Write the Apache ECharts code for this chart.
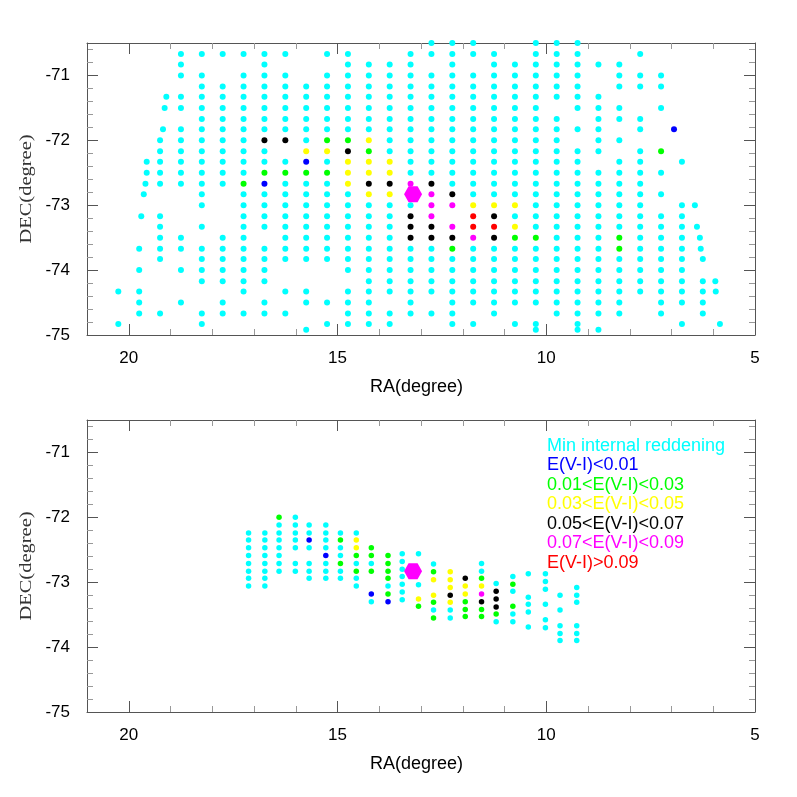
<!DOCTYPE html>
<html>
<head>
<meta charset="utf-8">
<script src="https://cdn.jsdelivr.net/npm/echarts@6/dist/echarts.min.js"></script>
<style>
  html, body { margin: 0; padding: 0; background: #fff; }
  #chart { width: 797px; height: 797px; }
</style>
</head>
<body>
<div id="chart"></div>
<script>
// top panel: one string per RA column, one char per DEC row (spaces only group rows by 5)
// . none  c min internal  b <0.01  g 0.01-0.03  y 0.03-0.05  k 0.05-0.07  m 0.07-0.09  r >0.09
const topRA = [20.25, 19.75, 19.25, 18.75, 18.25, 17.75, 17.25, 16.75, 16.25, 15.75,
  15.25, 14.75, 14.25, 13.75, 13.25, 12.75, 12.25, 11.75, 11.25, 10.75,
  10.25, 9.75, 9.25, 8.75, 8.25, 7.75, 7.25, 6.75, 6.25];
const topDec = [-70.5, -70.67, -70.83, -71, -71.17, -71.33, -71.5, -71.67, -71.83, -72,
  -72.17, -72.33, -72.5, -72.67, -72.83, -73, -73.17, -73.33, -73.5, -73.67,
  -73.83, -74, -74.17, -74.33, -74.5, -74.67, -74.83];
const topGrid = [
  "..... ..... ..... ..... ...c. .c",
  "..... ..... ..... ....c .c.cc c.",
  "..... ....c cccc. .cccc c.... c.",
  ".ccc. cc.cc cccc. ...cc .c..c ..",
  ".c.cc ccccc ccccc c.c.c ccc.. cc",
  ".c..c ccccc cccc. ...cc ccc.c c.",
  ".c.cc ccccc cccgc ccccc cccc. c.",
  ".cccc cccck ccgbc ccc.c ccc.c c.",
  ".c.cc cccck .cgcc ccccc c..c. c.",
  "....c ccccc ybgcc ccccc c..cc ..",
  ".c.cc ccccg ycgcc ccccc c...c .c",
  ".cccc ccccg kyyyc ccccc cc.cc cc",
  "..ccc ccccy gyyky ccccc ccccc cc",
  "..ccc ccccc cyyky ccccc cccc. cc",
  ".cccc ccccc cccm. ckkkc ccccc c.",
  "cc.cc ccccc ccckm mmkkc cccc. c.",
  "ccccc ccccc cccck m.mkg ccccc cc",
  "cc.cc ccccc ccccc yrrmc ccccc .c",
  ".cccc ccccc ccccc ykrkc ccccc c.",
  "..ccc ccccc ccccc ycygc ccccc .c",
  "ccccc ccccc ccccc cccgc ccccc .c",
  "ccccc c.ccc ccccc ccccc ccccc c.",
  "ccccc cc.c. ccccc ccccc ccccc cc",
  "..c.. ccccc c.ccc ccccc ccccc c.",
  "..ccc .cc.c .cccc cccgg ccccc c.",
  ".c.cc ..cc. ccccc ccccc cccc. ..",
  "...cc .c... g.c.c .cccc ccccc c.",
  "..... ..... .c... ccccc ccccc .c",
  "..... ..... ..... ..... c.ccc c."
];
// points off the regular grid (edges of the field)
const topExtra = [
  [19.57, -72.33, "c"], [19.57, -72.5, "c"], [19.6, -72.67, "c"], [19.64, -72.83, "c"], [19.7, -73.17, "c"],
  [19.1, -71.33, "c"], [19.14, -71.5, "c"], [19.18, -71.83, "c"],
  [6.94, -71.83, "b"],
  [6.44, -73, "c"], [6.39, -73.33, "c"], [6.32, -73.5, "c"], [6.3, -73.67, "c"],
  [5.95, -74.17, "c"], [5.94, -74.33, "c"], [5.84, -74.83, "c"],
  [15.75, -74.92, "c"], [10.25, -74.92, "c"], [9.25, -74.92, "c"], [8.75, -74.92, "c"]
];

// bottom panel points [RA, DEC]
const bottomMin = [
  [17.13, -72.24], [17.13, -72.35], [17.13, -72.47], [17.13, -72.59], [17.13, -72.71], [17.13, -72.83], [17.13, -72.94], [17.13, -73.06],
  [16.74, -72.24], [16.74, -72.35], [16.74, -72.47], [16.74, -72.59], [16.74, -72.71], [16.74, -72.83], [16.74, -72.94], [16.74, -73.06],
  [16.4, -72.12], [16.4, -72.24], [16.4, -72.35], [16.4, -72.47], [16.4, -72.59], [16.4, -72.71], [16.4, -72.83],
  [16.01, -72.0], [16.01, -72.12], [16.01, -72.24], [16.01, -72.35], [16.01, -72.47], [16.01, -72.71], [16.01, -72.83],
  [15.68, -72.12], [15.68, -72.24], [15.68, -72.47], [15.68, -72.71], [15.68, -72.83], [15.68, -72.94],
  [15.28, -72.12], [15.28, -72.24], [15.28, -72.35], [15.28, -72.47], [15.28, -72.71], [15.28, -72.83], [15.28, -72.94],
  [14.93, -72.24], [14.93, -72.47], [14.93, -72.59], [14.93, -72.83], [14.93, -72.94],
  [14.55, -72.24], [14.55, -72.71], [14.55, -72.94], [14.55, -73.06],
  [14.19, -72.71], [14.19, -73.3],
  [13.79, -73.06],
  [13.45, -72.56], [13.45, -72.68], [13.45, -72.8], [13.45, -72.91], [13.45, -73.03], [13.45, -73.15], [13.45, -73.27],
  [13.06, -72.56], [13.06, -73.04],
  [12.7, -72.72], [12.7, -73.43],
  [12.3, -73.43], [12.3, -73.55],
  [11.55, -72.71], [11.55, -72.83],
  [11.2, -73.02], [11.2, -73.61],
  [10.8, -72.91], [10.8, -73.14], [10.8, -73.49], [10.8, -73.61],
  [10.43, -72.87], [10.43, -73.23], [10.43, -73.34], [10.43, -73.46], [10.43, -73.69],
  [10.02, -72.87], [10.02, -72.99], [10.02, -73.11], [10.02, -73.34], [10.02, -73.58], [10.02, -73.7],
  [9.67, -73.2], [9.67, -73.43], [9.67, -73.67], [9.67, -73.79], [9.67, -73.9],
  [9.27, -73.08], [9.27, -73.2], [9.27, -73.31], [9.27, -73.67], [9.27, -73.79], [9.27, -73.9]
];
const bottomBlue = [[15.68, -72.35], [15.28, -72.59], [14.19, -73.18], [13.79, -73.3]];
const bottomGreen = [
  [16.4, -72.0], [14.93, -72.35], [14.93, -72.71], [14.55, -72.59], [14.55, -72.83],
  [14.19, -72.47], [14.19, -72.59], [14.19, -72.83],
  [13.79, -72.59], [13.79, -72.71], [13.79, -72.83], [13.79, -72.94], [13.79, -73.18],
  [13.06, -73.37], [12.7, -72.84], [12.7, -73.31], [12.7, -73.55],
  [11.94, -73.3], [11.94, -73.42], [11.94, -73.53],
  [11.55, -72.94], [11.55, -73.42], [11.55, -73.53],
  [11.2, -73.49], [10.8, -73.03], [10.8, -73.37]
];
const bottomYellow = [
  [14.55, -72.35], [14.55, -72.47], [13.06, -73.26], [12.7, -72.96], [12.7, -73.2],
  [12.3, -72.84], [12.3, -72.96], [12.3, -73.08], [12.3, -73.31],
  [11.94, -73.06], [11.94, -73.18], [11.55, -73.06]
];
const bottomBlack = [[12.3, -73.2], [11.94, -72.94], [11.55, -73.3], [11.2, -73.14], [11.2, -73.26], [11.2, -73.38]];
const bottomMagenta = [[11.55, -73.18]];
const bottomRed = [];

const smcCenter = [13.19, -72.83];

const cats = ["c", "b", "g", "y", "k", "m", "r"];
const catColors = ["#00ffff", "#0000ff", "#00ff00", "#ffff00", "#000000", "#ff00ff", "#ff0000"];
const legendText = ["Min internal reddening", "E(V-I)<0.01", "0.01<E(V-I)<0.03", "0.03<E(V-I)<0.05",
  "0.05<E(V-I)<0.07", "0.07<E(V-I)<0.09", "E(V-I)>0.09"];

const topPts = cats.map(() => []);
topGrid.forEach((col, i) => {
  col.replace(/ /g, "").split("").forEach((ch, k) => {
    const c = cats.indexOf(ch);
    if (c >= 0) topPts[c].push([topRA[i], topDec[k]]);
  });
});
topExtra.forEach(([ra, dec, ch]) => topPts[cats.indexOf(ch)].push([ra, dec]));
const bottomPts = [bottomMin, bottomBlue, bottomGreen, bottomYellow, bottomBlack, bottomMagenta, bottomRed];

const axisColor = "#555";
const minorColor = "#999";
const sans = "Liberation Sans";

function xAx(gridIndex, position, labels) {
  return {
    type: "value", gridIndex, position, inverse: true, min: 5, max: 21, interval: 5,
    axisLine: { onZero: false, lineStyle: { color: axisColor, width: 1 } },
    axisTick: { inside: true, length: 11, lineStyle: { color: axisColor } },
    minorTick: { show: true, splitNumber: 5, length: 6, lineStyle: { color: minorColor } },
    splitLine: { show: false },
    axisLabel: {
      show: labels, margin: 15, color: "#000", fontSize: 17, fontFamily: sans,
      formatter: v => (v % 5 === 0 ? String(v) : "")
    },
    name: labels ? "RA(degree)" : "", nameLocation: "middle", nameGap: 43,
    nameTextStyle: { color: "#000", fontSize: 18, fontFamily: sans, padding: [0, 9, 0, 0] }
  };
}
function yAx(gridIndex, position, labels) {
  return {
    type: "value", gridIndex, position, min: -75, max: -70.5, interval: 1,
    axisLine: { onZero: false, lineStyle: { color: axisColor, width: 1 } },
    axisTick: { inside: true, length: 11, lineStyle: { color: axisColor } },
    minorTick: { show: true, splitNumber: 5, length: 6, lineStyle: { color: minorColor } },
    splitLine: { show: false },
    axisLabel: {
      show: labels, margin: 17, color: "#000", fontSize: 17, fontFamily: sans,
      padding: [5, 0, 0, 0],
      formatter: v => (Number.isInteger(v) ? String(v) : "")
    }
  };
}

const series = [];
[topPts, bottomPts].forEach((pts, g) => {
  pts.forEach((data, c) => {
    series.push({
      type: "scatter", xAxisIndex: g * 2, yAxisIndex: g * 2, data,
      symbol: "circle", symbolSize: g ? 5.5 : 6, clip: false, silent: true,
      itemStyle: { color: catColors[c], opacity: 1 }, z: 2 + (c ? 1 : 0)
    });
  });
  series.push({
    type: "scatter", xAxisIndex: g * 2, yAxisIndex: g * 2, data: [smcCenter],
    symbol: "path://M0 50 L25 7 L75 7 L100 50 L75 93 L25 93 Z", symbolSize: [18, 16],
    clip: false, silent: true, itemStyle: { color: "#ff00ff", opacity: 1 }, z: 5
  });
});

// DEC titles are wide serif text in the original, so they are drawn stretched
const decTitles = [189, 566].map(y => ({
  type: "text", x: 27, y, rotation: Math.PI / 2, scaleX: 1.28, silent: true,
  style: { text: "DEC(degree)", fill: "#333", font: "16px 'Liberation Serif'", align: "center", verticalAlign: "middle" }
}));
const legendItems = legendText.map((t, i) => ({
  type: "text", x: 547, y: 446 + i * 19.5, silent: true,
  style: { text: t, fill: catColors[i], font: "18px 'Liberation Sans'", verticalAlign: "middle" }
}));

const chart = echarts.init(document.getElementById("chart"));
chart.setOption({
  animation: false,
  backgroundColor: "#fff",
  grid: [
    { left: 87, right: 42, top: 43, height: 292 },
    { left: 87, right: 42, top: 420, height: 292 }
  ],
  xAxis: [xAx(0, "bottom", true), xAx(0, "top", false), xAx(1, "bottom", true), xAx(1, "top", false)],
  yAxis: [yAx(0, "left", true), yAx(0, "right", false), yAx(1, "left", true), yAx(1, "right", false)],
  series,
  graphic: decTitles.concat(legendItems)
});
</script>
</body>
</html>
